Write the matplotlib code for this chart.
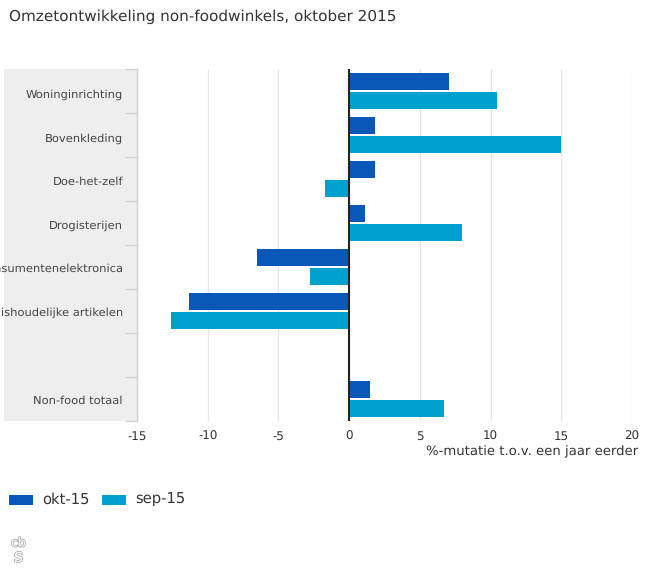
import matplotlib
matplotlib.use("Agg")
import matplotlib.pyplot as plt
import matplotlib.patheffects as pe
from matplotlib.patches import Rectangle
import numpy as np

plt.rcParams["text.hinting"] = "none"
plt.rcParams["text.hinting_factor"] = 8

title = "Omzetontwikkeling non-foodwinkels, oktober 2015"
categories = ["Woninginrichting", "Bovenkleding", "Doe-het-zelf", "Drogisterijen",
              "Consumentenelektronica", "Huishoudelijke artikelen", "", "Non-food totaal"]
okt_15 = [7.05, 1.8, 1.8, 1.1, -6.5, -11.3, np.nan, 1.5]
sep_15 = [10.45, 14.95, -1.7, 8.0, -2.8, -12.6, np.nan, 6.7]
xticks = [-15, -10, -5, 0, 5, 10, 15, 20]
xlabel = "%-mutatie t.o.v. een jaar eerder"
series_names = ["okt-15", "sep-15"]
C_OKT, C_SEP = "#0958b8", "#00a1cd"
W, H = 650, 582
TXT = "#444444"

fig = plt.figure(figsize=(W/100, H/100), dpi=100, facecolor="white")
L, R, T, B = 137, 632, 69, 421
ax = fig.add_axes([L/W, 1-B/H, (R-L)/W, (B-T)/H])
ax.set_xlim(-15, 20)
ax.set_ylim(len(categories), 0)

# grey label band
fig.add_artist(Rectangle((4/W, 1-B/H), (L-4)/W, (B-T)/H, transform=fig.transFigure,
                         facecolor="#eeeeee", edgecolor="none", zorder=0))
ax.patch.set_alpha(0)

y = np.arange(len(categories))
ax.barh(y+0.29, okt_15, height=0.385, color=C_OKT, zorder=3)
ax.barh(y+0.71, sep_15, height=0.385, color=C_SEP, zorder=3)

for s in ["top", "right", "bottom"]:
    ax.spines[s].set_visible(False)
ax.spines["left"].set_color("#d2d2d2")
ax.spines["left"].set_linewidth(1)

ax.set_xticks(xticks)
ax.set_xticklabels([str(v) for v in xticks], fontsize=8.6, color="#333333")
ax.tick_params(axis="x", length=0, pad=7)
ax.xaxis.grid(True, color="#e6e6e6", linewidth=1, zorder=0)
ax.set_axisbelow(True)
ax.axvline(0, color="#222222", linewidth=1.5, zorder=4)

ax.set_yticks(np.arange(len(categories)+1))
ax.set_yticklabels([""]*(len(categories)+1))
ax.tick_params(axis="y", length=9, color="#d2d2d2", width=1, direction="out")

for i, c in enumerate(categories):
    fig.text(123/W, 1-(T+25.5+i*43.7)/H, c, ha="right", va="center", fontsize=8.25, color=TXT)

fig.text(9/W, 1-16.5/H, title, ha="left", va="center", fontsize=11.0, color="#333333")
fig.text(638/W, 1-452/H, xlabel, ha="right", va="center", fontsize=9.55, color="#333333")

# legend
for x0, col, name, tx in [(9, C_OKT, series_names[0], 42), (102, C_SEP, series_names[1], 135)]:
    fig.add_artist(Rectangle((x0/W, 1-505/H), 24/W, 10/H, transform=fig.transFigure,
                             facecolor=col, edgecolor="none"))
    fig.text(tx/W, 1-500/H, name, ha="left", va="baseline", fontsize=10.6, color="#333333",
             transform=fig.transFigure + matplotlib.transforms.ScaledTranslation(0, -4/100, fig.dpi_scale_trans))

# logo
stroke = [pe.withStroke(linewidth=1.1, foreground="#a8a8a8")]
fig.text(18.5/W, 1-543/H, "cb", ha="center", va="center", fontsize=9,
         color="white", path_effects=stroke)
fig.text(18.5/W, 1-557/H, "s", ha="center", va="center", fontsize=13,
         color="white", path_effects=stroke)

fig.savefig("out.png", dpi=100)
